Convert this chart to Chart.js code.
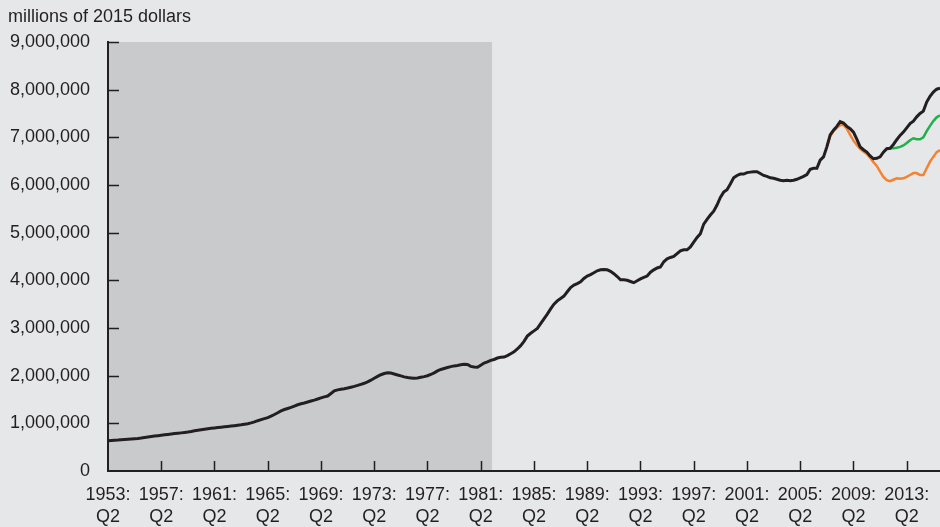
<!DOCTYPE html>
<html>
<head>
<meta charset="utf-8">
<script src="https://cdn.jsdelivr.net/npm/chart.js@4/dist/chart.umd.min.js"></script>
<style>
    html, body { margin: 0; padding: 0; background: #e6e7e9; }
    #wrap { width: 940px; height: 527px; }
</style>
</head>
<body>
<div id="wrap"><canvas id="chart" width="940" height="527"></canvas></div>
<script>
// Quarterly, 1953: Q2 through 2015: Q4
const startYear = 1953;
const startQuarter = 2;
const quarterCount = 251;

const labels = [];
for (let i = 0; i < quarterCount; i++) {
    const q = startQuarter - 1 + i;
    labels.push((startYear + Math.floor(q / 4)) + ': Q' + (q % 4 + 1));
}

// millions of 2015 dollars
const actual = [
    636000, 640000, 644000, 648000, 654000, 660000, 666000, 672000, 678000, 684000,
    692000, 702000, 712000, 722000, 732000, 741000, 750000, 760000, 768000, 777000,
    785000, 792000, 800000, 808000, 817000, 830000, 845000, 856000, 866000, 876000,
    886000, 895000, 903000, 911000, 919000, 927000, 935000, 943000, 951000, 960000,
    970000, 982000, 993000, 1010000, 1030000, 1055000, 1077000, 1098000, 1120000, 1150000,
    1185000, 1222000, 1262000, 1290000, 1312000, 1335000, 1362000, 1390000, 1410000, 1428000,
    1448000, 1468000, 1488000, 1510000, 1535000, 1555000, 1572000, 1625000, 1680000, 1702000,
    1714000, 1725000, 1740000, 1758000, 1775000, 1795000, 1818000, 1840000, 1870000, 1905000,
    1945000, 1985000, 2020000, 2045000, 2060000, 2055000, 2035000, 2015000, 1995000, 1975000,
    1960000, 1952000, 1945000, 1950000, 1965000, 1980000, 1998000, 2025000, 2060000, 2100000,
    2130000, 2150000, 2170000, 2190000, 2205000, 2215000, 2228000, 2240000, 2235000, 2195000,
    2180000, 2175000, 2220000, 2265000, 2290000, 2320000, 2340000, 2370000, 2385000, 2390000,
    2420000, 2460000, 2500000, 2560000, 2630000, 2720000, 2830000, 2890000, 2940000, 2990000,
    3090000, 3190000, 3290000, 3400000, 3500000, 3570000, 3620000, 3670000, 3760000, 3850000,
    3900000, 3930000, 3970000, 4040000, 4090000, 4120000, 4160000, 4200000, 4220000, 4225000,
    4220000, 4190000, 4140000, 4080000, 4010000, 4010000, 4000000, 3975000, 3950000, 3990000,
    4030000, 4060000, 4090000, 4170000, 4220000, 4260000, 4280000, 4390000, 4450000, 4480000,
    4500000, 4560000, 4620000, 4640000, 4640000, 4700000, 4800000, 4900000, 4980000, 5180000,
    5280000, 5370000, 5450000, 5580000, 5740000, 5850000, 5900000, 6020000, 6150000, 6200000,
    6230000, 6230000, 6260000, 6270000, 6280000, 6280000, 6240000, 6200000, 6180000, 6150000,
    6140000, 6120000, 6100000, 6090000, 6100000, 6090000, 6100000, 6120000, 6150000, 6180000,
    6220000, 6330000, 6350000, 6350000, 6520000, 6590000, 6800000, 7050000, 7150000, 7230000,
    7330000, 7300000, 7230000, 7180000, 7110000, 6960000, 6800000, 6740000, 6690000, 6610000,
    6550000, 6560000, 6590000, 6690000, 6760000, 6770000, 6850000, 6950000, 7040000, 7110000,
    7200000, 7290000, 7340000, 7430000, 7500000, 7550000, 7740000, 7860000, 7950000, 8010000,
    8030000
];

// from 2007: Q2 (index 216)
const orangeStart = 216;
const orange = [
    6800000, 7020000, 7130000, 7200000, 7260000, 7260000, 7180000, 7050000, 6930000, 6840000,
    6760000, 6700000, 6650000, 6570000, 6480000, 6400000, 6280000, 6170000, 6100000, 6080000,
    6110000, 6140000, 6130000, 6140000, 6170000, 6210000, 6250000, 6250000, 6210000, 6210000,
    6350000, 6490000, 6590000, 6690000, 6730000
];

// from 2011: Q3 (index 233)
const greenStart = 233;
const green = [
    6690000, 6760000, 6770000, 6770000, 6780000, 6800000, 6830000, 6880000, 6940000, 6980000,
    6960000, 6960000, 7000000, 7130000, 7240000, 7340000, 7420000, 7460000
];

const yTicks = [0, 1000000, 2000000, 3000000, 4000000, 5000000, 6000000, 7000000, 8000000, 9000000];

const bgColor = '#e6e7e9';
const shadeColor = '#c9cacc';
const inkColor = '#231f20';
const shadeEndIndex = 115.4;
const labelEvery = 16;

function padSeries(start, values) {
    const out = new Array(start).fill(null);
    return out.concat(values);
}

const chartDecor = {
    id: 'chartDecor',
    beforeDraw(chart) {
        const {ctx, chartArea, scales} = chart;
        ctx.save();
        ctx.fillStyle = bgColor;
        ctx.fillRect(0, 0, chart.width, chart.height);

        const x0 = scales.x.getPixelForValue(0);
        const x1 = scales.x.getPixelForValue(shadeEndIndex);
        ctx.fillStyle = shadeColor;
        ctx.fillRect(x0, chartArea.top, x1 - x0, chartArea.bottom - chartArea.top);
        ctx.restore();
    },
    beforeDatasetsDraw(chart) {
        const {ctx, chartArea, scales} = chart;
        ctx.save();
        ctx.strokeStyle = inkColor;
        ctx.lineWidth = 1.5;
        ctx.beginPath();
        yTicks.forEach((v) => {
            if (v === 0) return;
            const y = Math.round(scales.y.getPixelForValue(v)) + 0.5;
            ctx.moveTo(chartArea.left, y);
            ctx.lineTo(chartArea.left + 11, y);
        });
        for (let i = labelEvery; i < labels.length; i += labelEvery) {
            const x = Math.round(scales.x.getPixelForValue(i)) + 0.5;
            ctx.moveTo(x, chartArea.bottom);
            ctx.lineTo(x, chartArea.bottom - 10);
        }
        ctx.stroke();
        ctx.restore();
    }
};

const fontFamily = '"Liberation Sans", Arial, Helvetica, sans-serif';

new Chart(document.getElementById('chart'), {
    type: 'line',
    data: {
        labels: labels,
        datasets: [
            {
                data: actual,
                borderColor: inkColor,
                borderWidth: 3,
                pointRadius: 0,
                tension: 0
            },
            {
                data: padSeries(greenStart, green),
                borderColor: '#22b04b',
                borderWidth: 2.5,
                pointRadius: 0,
                tension: 0
            },
            {
                data: padSeries(orangeStart, orange),
                borderColor: '#f5822f',
                borderWidth: 2.5,
                pointRadius: 0,
                tension: 0
            }
        ]
    },
    options: {
        responsive: false,
        animation: false,
        devicePixelRatio: 1,
        layout: {
            padding: { left: 8, right: 0, top: 0, bottom: 0 }
        },
        plugins: {
            legend: { display: false },
            tooltip: { enabled: false },
            title: {
                display: true,
                text: 'millions of 2015 dollars',
                align: 'start',
                color: inkColor,
                font: { family: fontFamily, size: 18, weight: 'normal', lineHeight: 1.2 },
                padding: { top: 5.8, bottom: 14.6 }
            }
        },
        scales: {
            x: {
                type: 'category',
                offset: false,
                grid: { display: true, drawOnChartArea: false, drawTicks: false },
                border: { display: true, color: inkColor, width: 2 },
                afterFit: (scale) => {
                    scale.height = 56;
                    scale.paddingLeft = 0;
                    scale.paddingRight = 0;
                },
                ticks: {
                    autoSkip: false,
                    maxRotation: 0,
                    minRotation: 0,
                    padding: 13,
                    color: inkColor,
                    font: { family: fontFamily, size: 18, lineHeight: 1.22 },
                    callback: (value, index) => {
                        if (index % labelEvery !== 0) return null;
                        const parts = labels[index].split(' ');
                        return [parts[0], parts[1]];
                    }
                }
            },
            y: {
                min: 0,
                max: 9000000,
                grid: { display: true, drawOnChartArea: false, drawTicks: false },
                border: { display: true, color: inkColor, width: 2 },
                afterFit: (scale) => {
                    scale.width = 100;
                },
                afterBuildTicks: (scale) => {
                    scale.ticks = yTicks.map((v) => ({ value: v }));
                },
                ticks: {
                    padding: 18,
                    color: inkColor,
                    font: { family: fontFamily, size: 18 },
                    callback: (value) => value.toLocaleString('en-US')
                }
            }
        }
    },
    plugins: [chartDecor]
});
</script>
</body>
</html>
